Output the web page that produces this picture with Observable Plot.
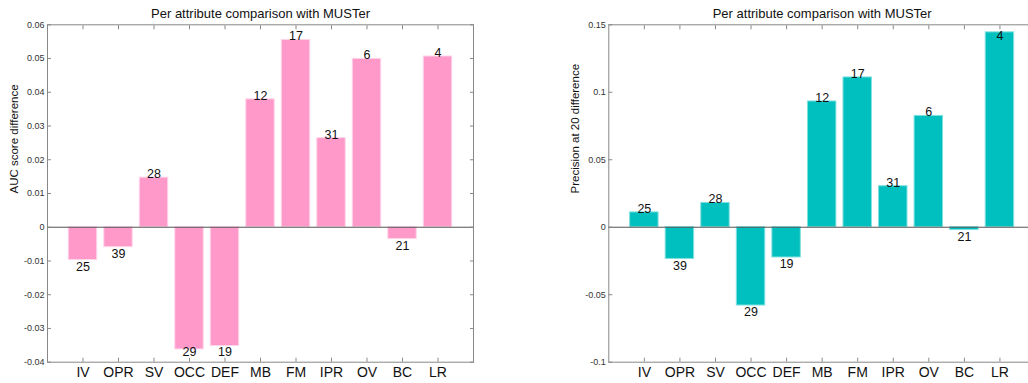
<!DOCTYPE html>
<html>
<head>
<meta charset="utf-8">
<script src="https://cdn.jsdelivr.net/npm/d3@7"></script>
<script src="https://cdn.jsdelivr.net/npm/@observablehq/plot@0.6"></script>
<style>
  html, body { margin: 0; padding: 0; background: #fff; overflow: hidden; }
  #wrap { position: relative; width: 1028px; height: 383px; overflow: hidden; }
  .fig { position: absolute; top: 0; }
</style>
</head>
<body>
<div id="wrap"></div>
<script>
const categories = ["IV", "OPR", "SV", "OCC", "DEF", "MB", "FM", "IPR", "OV", "BC", "LR"];
const counts = [25, 39, 28, 29, 19, 12, 17, 31, 6, 21, 4];
const aucDiff = [-0.0097, -0.0059, 0.0147, -0.0362, -0.0352, 0.0379, 0.0555, 0.0264, 0.0499, -0.0035, 0.0506];
const precDiff = [0.011, -0.0235, 0.018, -0.058, -0.0224, 0.0932, 0.111, 0.0304, 0.0825, -0.0021, 0.1444];
const aucTicks = [-0.04, -0.03, -0.02, -0.01, 0, 0.01, 0.02, 0.03, 0.04, 0.05, 0.06];
const precTicks = [-0.1, -0.05, 0, 0.05, 0.1, 0.15];
const title = "Per attribute comparison with MUSTer";
const aucLabel = "AUC score difference";
const precLabel = "Precision at 20 difference";

const FONT = "'Liberation Sans', Arial, Helvetica, sans-serif";
const noText = () => "";

function makeChart({values, yTicks, yLabel, fill, edge, width, marginLeft, marginRight, labelLow, labelHigh}) {
  const rows = categories.map((c, i) => ({cat: c, idx: i + 1, v: values[i], n: counts[i]}));
  const yDomain = [yTicks[0], yTicks[yTicks.length - 1]];
  const xTicks = rows.map(d => d.idx);
  const pos = rows.filter(d => d.v >= 0).map(d => ({...d, ly: Math.min(d.v, labelHigh)}));
  const neg = rows.filter(d => d.v < 0).map(d => ({...d, ly: Math.max(d.v, labelLow)}));
  return Plot.plot({
    width, height: 383,
    marginLeft, marginRight, marginTop: 24.3, marginBottom: 21.3,
    style: {fontFamily: FONT, fontSize: "9px", color: "#222", background: "transparent", overflow: "visible"},
    x: {type: "linear", domain: [0, categories.length + 1]},
    y: {domain: yDomain},
    marks: [
      Plot.rectY(rows, {x1: d => d.idx - 0.4, x2: d => d.idx + 0.4, y1: 0, y2: "v", fill, stroke: edge, strokeWidth: 1}),
      Plot.ruleY([0], {stroke: "#555", strokeWidth: 1}),
      Plot.frame({stroke: "#888", strokeWidth: 1}),
      Plot.axisY(yTicks, {anchor: "left", tickSize: -4, tickPadding: 7, tickFormat: d => String(d), stroke: "#888", fontSize: 9, fill: "#333", label: null}),
      Plot.axisY(yTicks, {anchor: "right", tickSize: -4, tickFormat: noText, stroke: "#888", label: null}),
      Plot.axisX(xTicks, {anchor: "bottom", tickSize: -4, tickPadding: 9.3, tickFormat: d => categories[d - 1], stroke: "#888", fontSize: 14, fill: "#111", label: null}),
      Plot.axisX(xTicks, {anchor: "top", tickSize: -4, tickFormat: noText, stroke: "#888", label: null}),
      Plot.text(pos, {x: "idx", y: "ly", text: d => String(d.n), lineAnchor: "bottom", dy: 0.5, fontSize: 12.5, fill: "#111"}),
      Plot.text(neg, {x: "idx", y: "ly", text: d => String(d.n), lineAnchor: "top", dy: 2, fontSize: 12.5, fill: "#111"}),
      Plot.text([title], {frameAnchor: "top", dy: -11.3, lineAnchor: "middle", fontSize: 13, fill: "#111"}),
      Plot.text([yLabel], {frameAnchor: "left", dx: -38, rotate: -90, lineAnchor: "top", fontSize: 11.5, fill: "#111"})
    ]
  });
}

const wrap = document.getElementById("wrap");

const left = makeChart({
  values: aucDiff, yTicks: aucTicks, yLabel: aucLabel,
  fill: "#ff99c9", edge: "#ffd3e8",
  width: 520, marginLeft: 47, marginRight: 47,
  labelLow: aucTicks[0] + 0.005, labelHigh: aucTicks[aucTicks.length - 1]
});
left.classList.add("fig");
left.style.left = "0px";
wrap.appendChild(left);

const right = makeChart({
  values: precDiff, yTicks: precTicks, yLabel: precLabel,
  fill: "#00bfbf", edge: "#80e0e0",
  width: 540, marginLeft: 68.3, marginRight: 45,
  labelLow: precTicks[0] + 0.01, labelHigh: precTicks[precTicks.length - 1] - 0.011
});
right.classList.add("fig");
right.style.left = "540px";
wrap.appendChild(right);
</script>
</body>
</html>
